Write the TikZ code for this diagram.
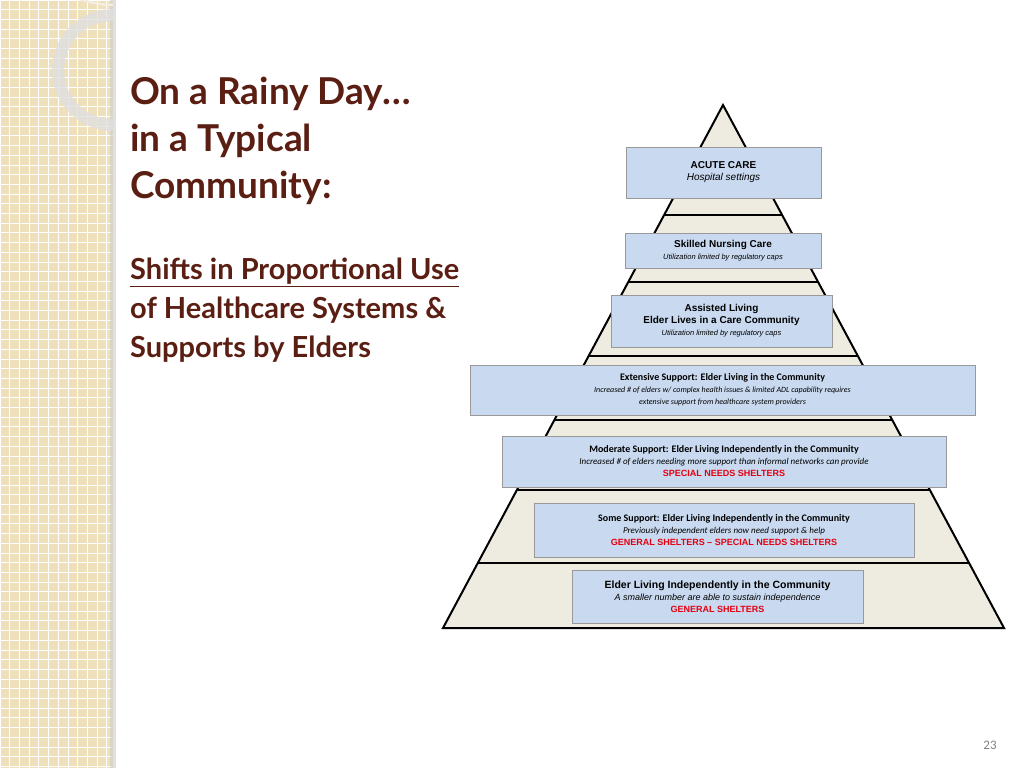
\documentclass[tikz,border=0pt]{standalone}
\usepackage{fontspec}
\setmainfont{Liberation Sans}
\newfontfamily\titlef{Lato}
\newfontfamily\calf{Carlito}
\definecolor{beige}{HTML}{EFE0BC}
\definecolor{brownt}{HTML}{5A1E12}
\definecolor{pyr}{HTML}{EEEBE0}
\definecolor{boxb}{HTML}{C9DAF0}
\definecolor{sred}{HTML}{E3000F}
\begin{document}
\begin{tikzpicture}[x=1pt,y=-1pt,
  bx/.style={draw=gray!80,fill=boxb,line width=0.8pt,align=center,inner sep=0pt},
  sep/.style={line width=2pt}]
\useasboundingbox (0,0) rectangle (1024,768);
\fill[white] (0,0) rectangle (1024,768);
% left strip
\fill[beige] (0,0) rectangle (113,768);
\foreach \i in {0,...,11} \draw[white,line width=0.8pt] (\i*9.7,0) -- (\i*9.7,768);
\foreach \j in {0,...,80} \draw[white,line width=0.8pt] (0,\j*9.7) -- (113,\j*9.7);
\fill[gray!40,opacity=0.6] (110,0) rectangle (116,768);
\draw[white!85!brown,line width=2.5pt] (113,5) arc[start angle=90,end angle=270,radius=95];
\draw[gray!25,opacity=0.8,line width=12pt] (113,125) arc[start angle=90,end angle=270,radius=55];
% title
\node[anchor=north west,text=brownt,font=\titlef\bfseries\fontsize{37}{47}\selectfont,align=left,inner sep=0pt] (title) at (130,77) {On a Rainy Day…\\in a Typical\\Community:};
\node[anchor=north west,text=brownt,font=\titlef\bfseries\fontsize{29}{39}\selectfont,align=left,inner sep=0pt] (sub) at (130,258) {\underline{Shifts in Proportional Use}\\of Healthcare Systems \&\\Supports by Elders};
% pyramid
\filldraw[fill=pyr,draw=black,line width=2pt,line join=miter] (723,105) -- (1004,628) -- (443,628) -- cycle;
\foreach \y in {215,282,356,420,490,563}
  \draw[sep] ({723-0.5366*(\y-105)},\y) -- ({723+0.5366*(\y-105)},\y);
% boxes
\node[bx,minimum width=195,minimum height=51] (b1) at (723.5,172.5) {\bfseries\fontsize{10}{12}\selectfont ACUTE CARE\\\itshape\fontsize{10}{12}\selectfont Hospital settings};
\node[bx,minimum width=196,minimum height=35] (b2) at (723,250.5) {\bfseries\fontsize{10}{12}\selectfont Skilled Nursing Care\\\itshape\fontsize{7.5}{10}\selectfont Utilization limited by regulatory caps};
\node[bx,minimum width=221,minimum height=52] (b3) at (721.5,321) {\bfseries\fontsize{10}{13}\selectfont Assisted Living\\\bfseries\fontsize{10}{13}\selectfont Elder Lives in a Care Community\\\itshape\fontsize{7.5}{10}\selectfont Utilization limited by regulatory caps};
\node[bx,minimum width=505,minimum height=50,font=\calf] (b4) at (722.5,390) {\bfseries\fontsize{10}{14}\selectfont Extensive Support: Elder Living in the Community\\\itshape\fontsize{8}{13}\selectfont Increased \# of elders w/ complex health issues \& limited ADL capability requires\\\itshape\fontsize{8}{13}\selectfont extensive support from healthcare system providers};
\node[bx,minimum width=444,minimum height=51] (b5) at (724,461.5) {\calf\bfseries\fontsize{10}{14}\selectfont Moderate Support: Elder Living Independently in the Community\\\calf\itshape\fontsize{9}{14}\selectfont Increased \# of elders needing more support than informal networks can provide\\\color{sred}\bfseries\fontsize{9}{11}\selectfont SPECIAL NEEDS SHELTERS};
\node[bx,minimum width=380,minimum height=54] (b6) at (724,530) {\calf\bfseries\fontsize{10}{14}\selectfont Some Support: Elder Living Independently in the Community\\\calf\itshape\fontsize{9}{14}\selectfont Previously independent elders now need support \& help\\\color{sred}\bfseries\fontsize{9}{11}\selectfont GENERAL SHELTERS -- SPECIAL NEEDS SHELTERS};
\node[bx,minimum width=291,minimum height=53] (b7) at (717.5,596.5) {\bfseries\fontsize{10.5}{13}\selectfont Elder Living Independently in the Community\\\itshape\fontsize{9}{13}\selectfont A smaller number are able to sustain independence\\\color{sred}\bfseries\fontsize{9}{13}\selectfont GENERAL SHELTERS};
\node[text=gray,font=\calf\fontsize{13}{15}\selectfont] (pg) at (990,745) {23};
\end{tikzpicture}
\end{document}
